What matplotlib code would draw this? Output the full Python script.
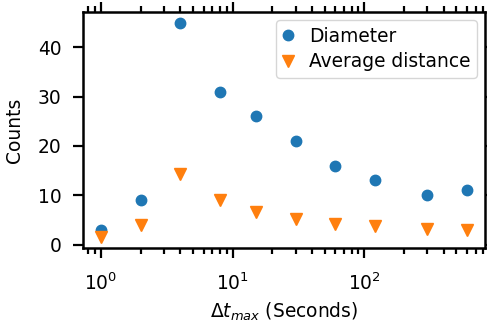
import matplotlib
matplotlib.use("Agg")
import matplotlib.pyplot as plt

dt_max = [1, 2, 4, 8, 15, 30, 60, 120, 300, 600]
diameter = [3, 9, 45, 31, 26, 21, 16, 13, 10, 11]
avg_distance = [1.5, 3.9, 14.4, 9.1, 6.6, 5.2, 4.25, 3.7, 3.25, 3.05]

plt.rcParams['font.family'] = 'DejaVu Sans'
plt.rcParams['font.size'] = 13.4

fig = plt.figure(figsize=(4.87, 3.22), dpi=100)
ax = fig.add_axes([0.170, 0.230, 0.826, 0.733])
ax.plot(dt_max, diameter, 'o', color='#1f77b4', markersize=7.5, label='Diameter', linestyle='none')
ax.plot(dt_max, avg_distance, 'v', color='#ff7f0e', markersize=8, label='Average distance', linestyle='none')
ax.set_xscale('log')
ax.set_yticks([0, 10, 20, 30, 40])
ax.set_xlabel(r'$\Delta t_{max}$ (Seconds)', labelpad=5)
ax.set_ylabel('Counts', labelpad=10)
for s in ax.spines.values():
    s.set_linewidth(1.8)
ax.tick_params(which='both', direction='out', top=True, right=True, width=1.6, pad=8)
ax.tick_params(axis='x', which='both', pad=10)
ax.tick_params(which='major', length=7.5)
ax.tick_params(which='minor', length=4)
ax.legend(loc='upper right', handlelength=0.6, handletextpad=0.8, borderpad=0.35,
          labelspacing=0.35, borderaxespad=0.45)
fig.savefig('out.png', dpi=100)
